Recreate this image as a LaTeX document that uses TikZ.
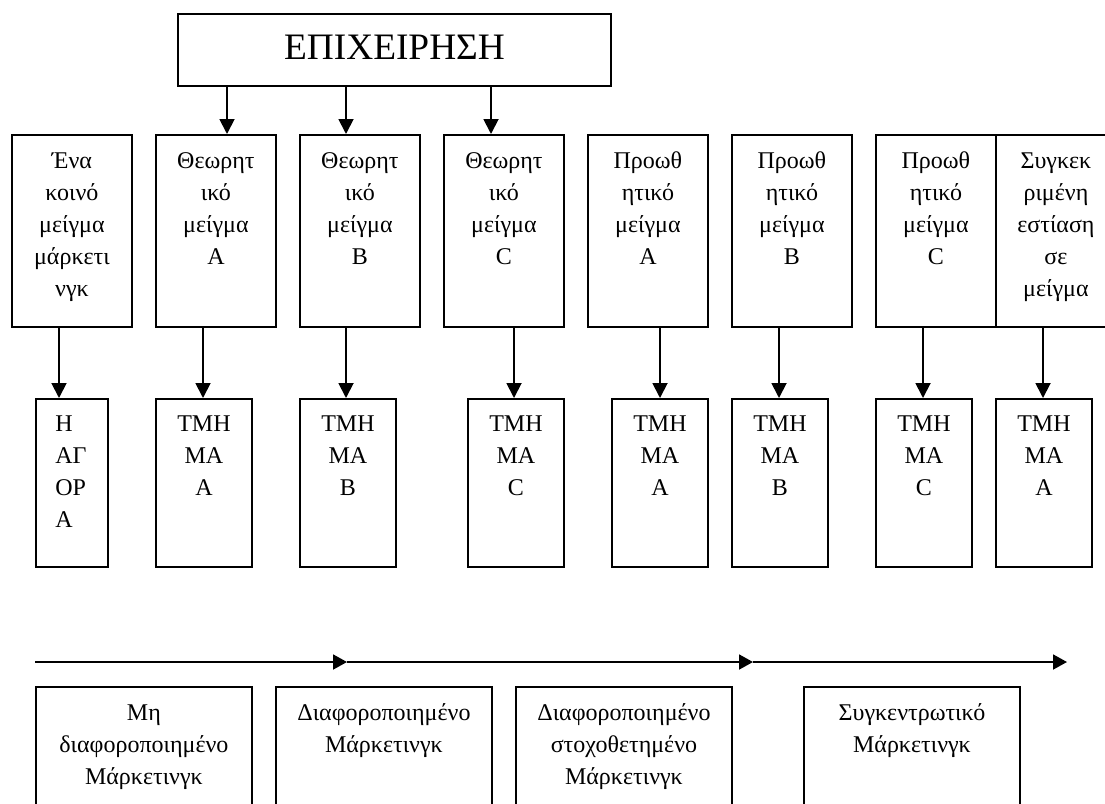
\documentclass[tikz,border=0pt]{standalone}
\usepackage{fontspec}
\setmainfont{Liberation Serif}
\usetikzlibrary{arrows.meta}
\begin{document}
\begin{tikzpicture}[x=0.75pt,y=-0.75pt,
  box/.style={draw, line width=1.4pt, rectangle, inner sep=0pt, anchor=north west},
  topbox/.style={box, minimum width=90pt, minimum height=144pt},
  narrowbox/.style={box, minimum width=54pt, minimum height=126pt},
  segbox/.style={box, minimum width=72pt, minimum height=126pt},
  stratbox/.style={box, minimum width=162pt, minimum height=112.5pt},
  txt/.style={anchor=north, inner sep=0pt, align=center, font=\fontsize{18pt}{24pt}\selectfont},
  arr/.style={line width=1.4pt, -{Triangle[length=11.25pt,width=11.25pt]}},
  harr/.style={line width=1.4pt, -{Triangle[length=10.5pt,width=11.25pt]}}]
\useasboundingbox (0,0) rectangle (1105,803);

% top node
\node[draw, line width=1.4pt, inner sep=0pt, minimum width=324.75pt, minimum height=54pt,
  font=\fontsize{28pt}{34pt}\selectfont, text depth=4.6pt] (firm) at (394.5,50) {ΕΠΙΧΕΙΡΗΣΗ};

% first row of boxes
\node[topbox] (r1) at (11,134) {};
\node[topbox] (r2) at (155,134) {};
\node[topbox] (r3) at (299,134) {};
\node[topbox] (r4) at (443,134) {};
\node[topbox] (r5) at (587,134) {};
\node[topbox] (r6) at (731,134) {};
\node[topbox] (r7) at (875,134) {};
\node[topbox] (r8) at (995,134) {};

\node[txt] (r1t) at ([yshift=-8.5pt]r1.north) {\strut Ένα\\κοινό\\μείγμα\\μάρκετι\\νγκ};
\node[txt] (r2t) at ([yshift=-8.5pt]r2.north) {\strut Θεωρητ\\ικό\\μείγμα\\A};
\node[txt] (r3t) at ([yshift=-8.5pt]r3.north) {\strut Θεωρητ\\ικό\\μείγμα\\B};
\node[txt] (r4t) at ([yshift=-8.5pt]r4.north) {\strut Θεωρητ\\ικό\\μείγμα\\C};
\node[txt] (r5t) at ([yshift=-8.5pt]r5.north) {\strut Προωθ\\ητικό\\μείγμα\\A};
\node[txt] (r6t) at ([yshift=-8.5pt]r6.north) {\strut Προωθ\\ητικό\\μείγμα\\B};
\node[txt] (r7t) at ([yshift=-8.5pt]r7.north) {\strut Προωθ\\ητικό\\μείγμα\\C};
\node[txt] (r8t) at ([yshift=-8.5pt]r8.north) {\strut Συγκεκ\\ριμένη\\εστίαση\\σε\\μείγμα};

% second row of boxes
\node[narrowbox] (s1) at (35,398) {};
\node[segbox] (s2) at (155,398) {};
\node[segbox] (s3) at (299,398) {};
\node[segbox] (s4) at (467,398) {};
\node[segbox] (s5) at (611,398) {};
\node[segbox] (s6) at (731,398) {};
\node[segbox] (s7) at (875,398) {};
\node[segbox] (s8) at (995,398) {};

\node[txt, anchor=north west, align=left] (s1t) at ([xshift=15pt,yshift=-8pt]s1.north west) {\strut Η\\ΑΓ\\ΟΡ\\Α};
\node[txt] (s2t) at ([yshift=-8pt]s2.north) {\strut ΤΜΗ\\ΜΑ\\A};
\node[txt] (s3t) at ([yshift=-8pt]s3.north) {\strut ΤΜΗ\\ΜΑ\\B};
\node[txt] (s4t) at ([yshift=-8pt]s4.north) {\strut ΤΜΗ\\ΜΑ\\C};
\node[txt] (s5t) at ([yshift=-8pt]s5.north) {\strut ΤΜΗ\\ΜΑ\\A};
\node[txt] (s6t) at ([yshift=-8pt]s6.north) {\strut ΤΜΗ\\ΜΑ\\B};
\node[txt] (s7t) at ([yshift=-8pt]s7.north) {\strut ΤΜΗ\\ΜΑ\\C};
\node[txt] (s8t) at ([yshift=-8pt]s8.north) {\strut ΤΜΗ\\ΜΑ\\A};

% arrows from the firm
\coordinate (fa) at (227,0);
\coordinate (fb) at (346,0);
\coordinate (fc) at (491,0);
\draw[arr] (firm.south -| fa) -- (r2.north -| fa);
\draw[arr] (firm.south -| fb) -- (r3.north -| fb);
\draw[arr] (firm.south -| fc) -- (r4.north -| fc);

% arrows between the rows
\coordinate (x1) at (59,0);
\coordinate (x2) at (203,0);
\coordinate (x3) at (346,0);
\coordinate (x4) at (514,0);
\coordinate (x5) at (660,0);
\coordinate (x6) at (779,0);
\coordinate (x7) at (923,0);
\coordinate (x8) at (1043,0);
\draw[arr] (r1.south -| x1) -- (s1.north -| x1);
\draw[arr] (r2.south -| x2) -- (s2.north -| x2);
\draw[arr] (r3.south -| x3) -- (s3.north -| x3);
\draw[arr] (r4.south -| x4) -- (s4.north -| x4);
\draw[arr] (r5.south -| x5) -- (s5.north -| x5);
\draw[arr] (r6.south -| x6) -- (s6.north -| x6);
\draw[arr] (r7.south -| x7) -- (s7.north -| x7);
\draw[arr] (r8.south -| x8) -- (s8.north -| x8);

% horizontal progression arrow
\coordinate (h0) at (35,662);
\coordinate (h1) at (347,662);
\coordinate (h2) at (753,662);
\coordinate (h3) at (1067,662);
\draw[harr] (h0) -- (h1);
\draw[harr] (h1) -- (h2);
\draw[harr] (h2) -- (h3);

% strategy boxes
\node[stratbox] (m1) at (35,686) {};
\node[stratbox] (m2) at (275,686) {};
\node[stratbox] (m3) at (515,686) {};
\node[stratbox] (m4) at (803,686) {};

\node[txt] (m1t) at ([yshift=-8.5pt]m1.north) {\strut Μη\\διαφοροποιημένο\\Μάρκετινγκ};
\node[txt] (m2t) at ([yshift=-8.5pt]m2.north) {\strut Διαφοροποιημένο\\Μάρκετινγκ};
\node[txt] (m3t) at ([yshift=-8.5pt]m3.north) {\strut Διαφοροποιημένο\\στοχοθετημένο\\Μάρκετινγκ};
\node[txt] (m4t) at ([yshift=-8.5pt]m4.north) {\strut Συγκεντρωτικό\\Μάρκετινγκ};
\end{tikzpicture}
\end{document}
